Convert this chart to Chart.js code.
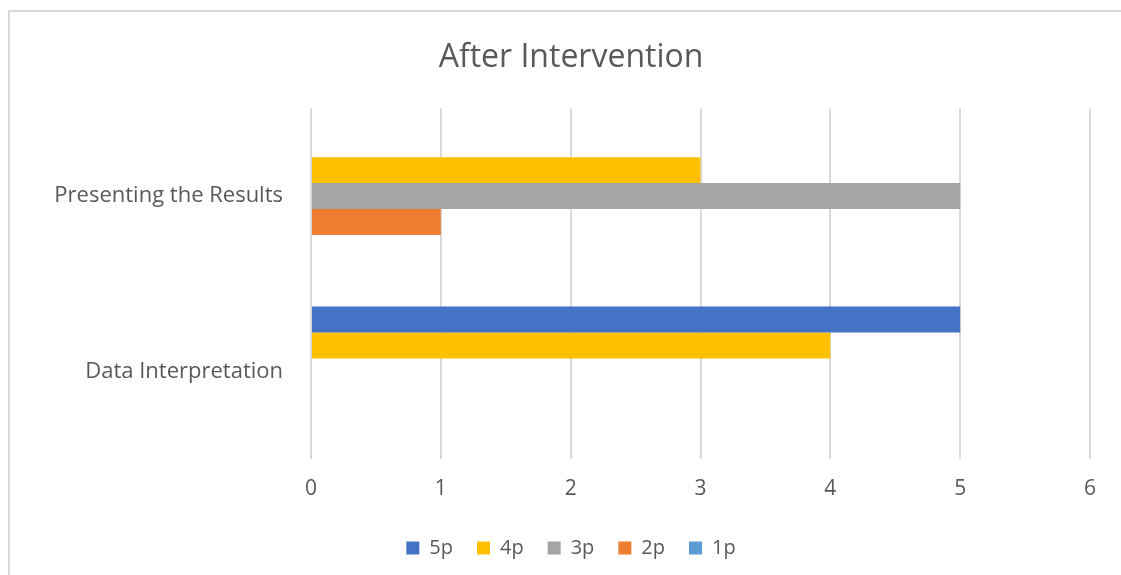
<!DOCTYPE html>
<html>
<head>
<meta charset="utf-8">
<script src="https://cdn.jsdelivr.net/npm/chart.js@4.4.1/dist/chart.umd.min.js"></script>
<style>
  html, body { margin: 0; padding: 0; width: 1121px; height: 575px; overflow: hidden; background: #fff; }
  #frame { position: absolute; left: 8px; top: 10px; width: 1300px; height: 800px; border: 2px solid #d9d9d9; box-sizing: border-box; }
  #wrap { position: absolute; left: 0; top: 0; width: 1121px; height: 575px; }
</style>
</head>
<body>
<div id="frame"></div>
<div id="wrap"><canvas id="chart" width="1121" height="575"></canvas></div>
<script>
// Categories (top to bottom) and ratings per level
const categories = ["Presenting the Results", "Data Interpretation"];
const seriesNames = ["5p", "4p", "3p", "2p", "1p"];
const values5p = [0, 5];
const values4p = [3, 4];
const values3p = [5, 0];
const values2p = [1, 0];
const values1p = [0, 0];
const xTicks = [0, 1, 2, 3, 4, 5, 6];

const colors = ["#4472C4", "#FFC000", "#A5A5A5", "#ED7D31", "#5B9BD5"];
const seriesValues = [values5p, values4p, values3p, values2p, values1p];

const FONT = "'Open Sans', 'DejaVu Sans', sans-serif";
const TEXT = "#595959";

new Chart(document.getElementById("chart"), {
  type: "bar",
  data: {
    labels: categories,
    datasets: seriesNames.map((name, i) => ({
      label: name,
      data: seriesValues[i],
      backgroundColor: colors[i],
      borderWidth: 0,
      categoryPercentage: 0.74,
      barPercentage: 1.0
    }))
  },
  options: {
    indexAxis: "y",
    responsive: false,
    animation: false,
    layout: { padding: { left: 52, right: 31, top: 0, bottom: 7 } },
    plugins: {
      title: {
        display: true,
        text: "After Intervention",
        color: TEXT,
        font: { family: FONT, size: 32, weight: "normal" },
        padding: { top: 39, bottom: 31 }
      },
      legend: {
        position: "bottom",
        labels: {
          color: TEXT,
          font: { family: FONT, size: 20 },
          boxWidth: 13,
          boxHeight: 13,
          padding: 24
        }
      },
      tooltip: { enabled: false }
    },
    scales: {
      x: {
        min: 0,
        max: 6,
        afterBuildTicks: (scale) => { scale.ticks = xTicks.map(v => ({ value: v })); },
        afterFit: (scale) => { scale.height = 55; },
        grid: { color: "#d9d9d9", lineWidth: 2, drawTicks: false },
        border: { display: false },
        ticks: { color: TEXT, font: { family: FONT, size: 21 }, padding: 17 }
      },
      y: {
        afterFit: (scale) => { scale.width = 259; },
        grid: { display: false, drawTicks: false },
        border: { display: false },
        ticks: { color: TEXT, font: { family: FONT, size: 22 }, padding: 28 }
      }
    }
  }
});
</script>
</body>
</html>
